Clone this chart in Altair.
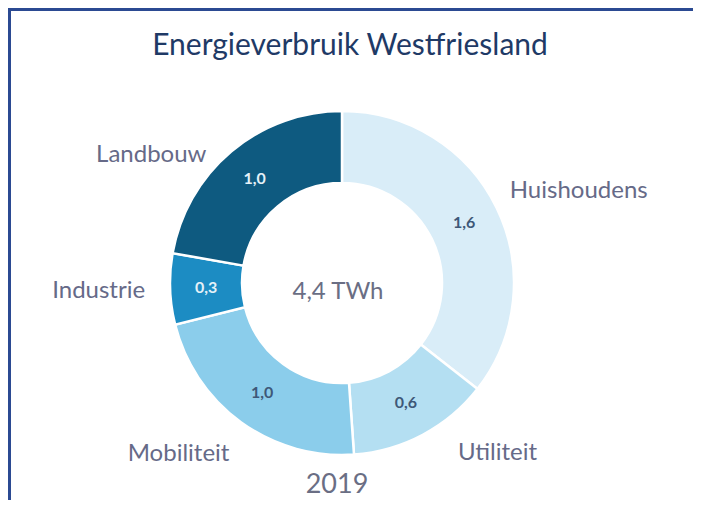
import altair as alt
import pandas as pd

categories = ["Huishoudens", "Utiliteit", "Mobiliteit", "Industrie", "Landbouw"]
values = [1.6, 0.6, 1.0, 0.3, 1.0]
value_labels = ["1,6", "0,6", "1,0", "0,3", "1,0"]
title_text = "Energieverbruik Westfriesland"
center_text = "4,4 TWh"
year_text = "2019"

palette = ["#d9edf8", "#b4dff2", "#8bcdeb", "#1c8cc3", "#0e5a80"]
FONT = "Lato"
W, H = 685, 492
CX, CY = 334, 275

df = pd.DataFrame({
    "category": categories,
    "value": values,
    "label": value_labels,
    "order": list(range(len(categories))),
})
one = pd.DataFrame({"a": [0]})

theta = alt.Theta("value:Q", stack=True)
order = alt.Order("order:Q", sort="ascending")

base = alt.Chart(df)

arcs = base.mark_arc(innerRadius=100, outerRadius=172, stroke="white", strokeWidth=2.5).encode(
    theta=theta,
    order=order,
    color=alt.Color("category:N", scale=alt.Scale(domain=categories, range=palette), legend=None),
    x=alt.value(CX),
    y=alt.value(CY),
)

vals = base.mark_text(radius=136, font=FONT, fontSize=16, fontWeight="bold").encode(
    theta=theta,
    order=order,
    text="label:N",
    color=alt.condition(
        alt.FieldOneOfPredicate(field="category", oneOf=["Industrie", "Landbouw"]),
        alt.value("#e4f1f8"),
        alt.value("#3e5878"),
    ),
    x=alt.value(CX),
    y=alt.value(CY),
)

# outer category labels: anchored at each slice's mid-angle, nudged
nudges = {
    "Huishoudens": ("left", -12, -4),
    "Utiliteit": ("left", 22, -7),
    "Mobiliteit": ("right", 5, 9),
    "Industrie": ("right", 3, 1),
    "Landbouw": ("right", -7, 25),
}
cat_layers = []
for cat, (al, ddx, ddy) in nudges.items():
    cat_layers.append(
        base.mark_text(radius=200, font=FONT, fontSize=24, color="#666a88", align=al,
                       baseline="middle", dx=ddx, dy=ddy).encode(
            theta=theta,
            order=order,
            text=alt.condition(alt.datum.category == cat, "category:N", alt.value("")),
            x=alt.value(CX),
            y=alt.value(CY),
        )
    )

ann = alt.Chart(one)
title = ann.mark_text(font=FONT, fontSize=30, color="#1f3a66", align="center", baseline="middle").encode(
    x=alt.value(342), y=alt.value(38), text=alt.value(title_text))
center = ann.mark_text(font=FONT, fontSize=24, color="#6a6e84", align="center", baseline="middle").encode(
    x=alt.value(330), y=alt.value(284), text=alt.value(center_text))
year = ann.mark_text(font=FONT, fontSize=27, fontWeight="normal", color="#6a6e84", align="center",
                     baseline="middle").encode(
    x=alt.value(329), y=alt.value(477), text=alt.value(year_text))

top_border = ann.mark_rule(color="#2b4a92", strokeWidth=3).encode(
    x=alt.value(0), x2=alt.value(W), y=alt.value(1.5))
left_border = ann.mark_rule(color="#2b4a92", strokeWidth=3).encode(
    x=alt.value(1.5), y=alt.value(0), y2=alt.value(H))

chart = alt.layer(arcs, vals, *cat_layers, title, center, year, top_border, left_border).properties(
    width=W, height=H, autosize="none", padding=0
).configure_view(stroke=None).configure(background="white")

chart.save("out.html", embed_options={"renderer": "svg", "actions": False})
